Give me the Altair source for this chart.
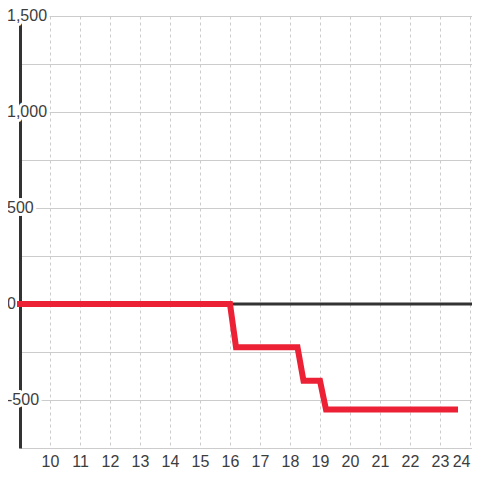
import altair as alt
import pandas as pd

# Data
hours = [9, 16, 16.2, 18.25, 18.45, 19, 19.2, 23.5]
values = [0, 0, -225, -225, -400, -400, -550, -550]
x_ticks = list(range(10, 25))
y_grid = [-750, -500, -250, 0, 250, 500, 750, 1000, 1250, 1500]
y_label_values = [1500, 1000, 500, 0, -500]
y_label_text = ["1,500", "1,000", "500", "0", "-500"]

FONT = "Liberation Sans"
FONT_SIZE = 16
LABEL_COLOR = "#3d3d3d"

line_df = pd.DataFrame({"hour": hours, "value": values})
label_df = pd.DataFrame({"value": y_label_values, "text": y_label_text,
                         "hour": [hours[0]] * len(y_label_values)})
zero_df = pd.DataFrame({"value": [0]})

x_scale = alt.Scale(domain=[9, 24.0667], nice=False, zero=False)
y_scale = alt.Scale(domain=[-750, 1500], nice=False, zero=False)

x_axis = alt.Axis(values=x_ticks, grid=True, gridColor="#cccccc", gridDash=[3, 3],
                  gridWidth=1, domain=False, ticks=False, tickSize=0, labelPadding=5,
                  labelFont=FONT, labelFontSize=FONT_SIZE, labelColor=LABEL_COLOR,
                  labelFlush=10, title=None, labelOverlap=False)
y_axis = alt.Axis(values=y_grid, grid=True, gridColor="#cccccc", gridWidth=1,
                  domain=True, domainColor="#333333", domainWidth=3, ticks=False,
                  tickSize=0, labels=False, title=None)

X = lambda: alt.X("hour:Q", scale=x_scale, axis=x_axis)
Y = lambda: alt.Y("value:Q", scale=y_scale, axis=y_axis)

halo = alt.Chart(label_df).mark_text(
    align="left", baseline="middle", dx=-13, font=FONT, fontSize=FONT_SIZE,
    fill="white", stroke="white", strokeWidth=6, strokeJoin="round"
).encode(x=X(), y=Y(), text="text:N")

labels = alt.Chart(label_df).mark_text(
    align="left", baseline="middle", dx=-13, font=FONT, fontSize=FONT_SIZE,
    fill=LABEL_COLOR
).encode(x=X(), y=Y(), text="text:N")

zero = alt.Chart(zero_df).mark_rule(color="#333333", strokeWidth=3).encode(y=Y())

line = alt.Chart(line_df).mark_line(
    color="#ec2136", strokeWidth=6, strokeCap="square", strokeJoin="miter"
).encode(x=X(), y=Y())

chart = alt.layer(halo, labels, zero, line).properties(
    width=452, height=432,
    padding={"left": 12, "top": 8, "right": 0, "bottom": 20},
    autosize=alt.AutoSizeParams(type="none"),
    background="white",
).configure_view(strokeWidth=0)

chart.save("out.html", embed_options={"renderer": "svg", "actions": False})
